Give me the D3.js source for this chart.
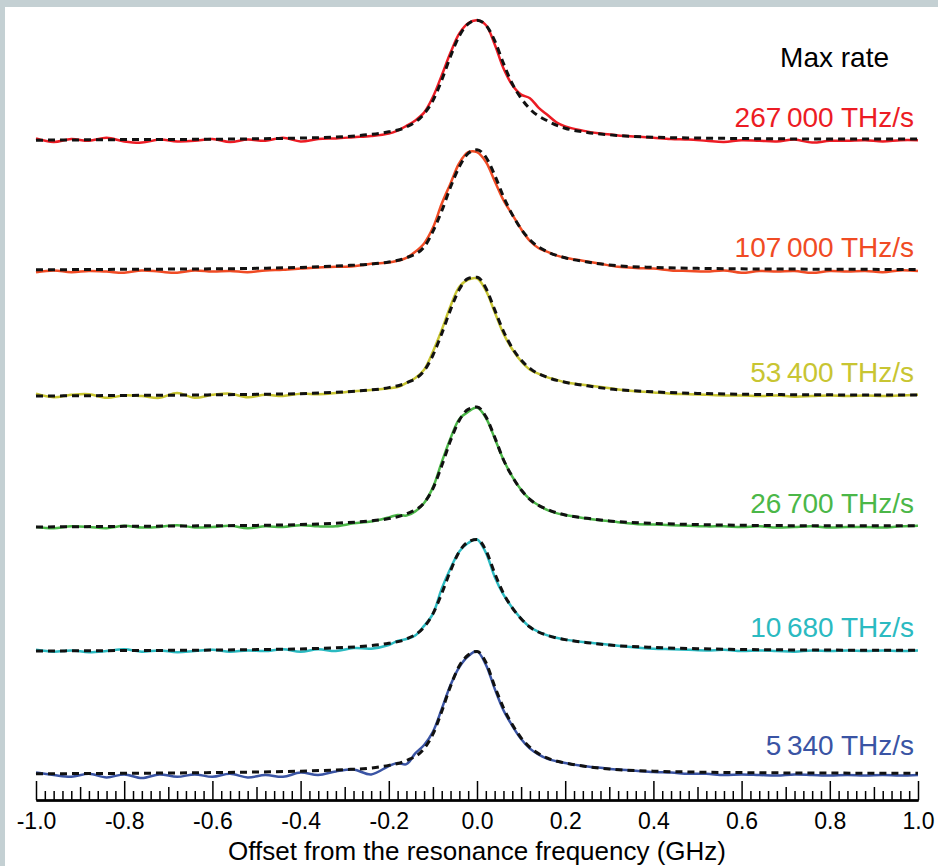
<!DOCTYPE html>
<html>
<head>
<meta charset="utf-8">
<script src="https://cdn.jsdelivr.net/npm/d3@7"></script>
<style>
  html, body { margin: 0; padding: 0; background: #c4d0d3; }
  svg { display: block; }
  text { font-family: "Liberation Sans", Arial, Helvetica, sans-serif; }
</style>
</head>
<body>
<svg id="chart" width="938" height="866"></svg>
<script>
// ---------------- DATA ----------------
const rateLabels = ["267\u2009000 THz/s", "107\u2009000 THz/s", "53\u2009400 THz/s",
                    "26\u2009700 THz/s", "10\u2009680 THz/s", "5\u2009340 THz/s"];
const seriesColors = ["#ec1c24", "#f04b24", "#c8c532", "#4bb748", "#2bbac1", "#3a54a4"];
// vertical offsets of each trace (a.u.)
const offsets = [5.29, 4.20, 3.158, 2.067, 1.033, 0];

const tickValuesMajor = [-1.0, -0.8, -0.6, -0.4, -0.2, 0.0, 0.2, 0.4, 0.6, 0.8, 1.0];
const tickLabels = ["-1.0", "-0.8", "-0.6", "-0.4", "-0.2", "0.0", "0.2", "0.4", "0.6", "0.8", "1.0"];

// measured spectra: x (GHz)
const xData = [-1.00,-0.96,-0.92,-0.88,-0.84,-0.80,-0.76,-0.72,-0.68,-0.64,-0.60,-0.56,-0.52,-0.48,-0.44,-0.40,-0.36,-0.32,-0.28,-0.24,
  -0.20,-0.18,-0.16,-0.14,-0.12,-0.10,-0.08,-0.06,-0.04,-0.02,0.00,0.02,0.04,0.06,0.08,0.10,0.12,0.14,0.16,0.18,0.20,
  0.24,0.28,0.32,0.36,0.40,0.44,0.48,0.52,0.56,0.60,0.64,0.68,0.72,0.76,0.80,0.84,0.88,0.92,0.96,1.00];

const data267000 = [0.015,-0.015,0.01,-0.005,0.02,-0.01,-0.02,0.005,-0.01,-0.005,0.01,-0.015,0.005,-0.005,0.02,-0.01,0.01,0.015,0.025,0.035,
  0.055,0.08,0.12,0.165,0.23,0.36,0.54,0.73,0.89,0.975,1.0,0.96,0.80,0.60,0.46,0.38,0.35,0.27,0.21,0.15,0.115,
  0.08,0.055,0.04,0.03,0.02,0.01,0.005,-0.005,-0.015,0.0,-0.005,-0.01,0.005,-0.02,-0.005,-0.005,0.0,-0.01,0.0,0.0];
const data107000 = [-0.01,0.005,-0.01,0.0,-0.005,-0.015,0.005,-0.005,-0.015,0.005,-0.005,0.0,-0.01,0.005,0.01,0.02,0.03,0.035,0.04,0.06,
  0.07,0.085,0.11,0.16,0.23,0.36,0.56,0.73,0.90,0.99,0.99,0.91,0.75,0.59,0.47,0.35,0.25,0.19,0.16,0.13,0.11,
  0.085,0.06,0.035,0.025,0.02,0.005,0.0,-0.005,0.005,-0.015,0.0,-0.005,0.0,-0.015,0.0,-0.005,0.0,-0.01,0.005,0.0];
const data53400 = [0.02,-0.01,0.01,0.015,-0.015,0.005,0.0,-0.015,0.025,-0.015,0.01,0.02,-0.01,0.01,0.0,0.02,0.015,0.025,0.04,0.05,
  0.065,0.075,0.11,0.15,0.22,0.37,0.55,0.75,0.91,0.97,0.98,0.88,0.70,0.52,0.39,0.29,0.22,0.185,0.155,0.135,0.115,
  0.095,0.075,0.055,0.04,0.03,0.02,0.015,0.01,0.005,0.005,0.0,0.005,-0.005,0.0,0.005,0.0,0.005,0.0,0.005,0.01];
const data26700 = [0.0,-0.01,0.005,0.0,-0.01,0.01,-0.005,0.0,0.015,-0.005,0.0,0.01,-0.01,0.005,0.0,0.015,0.005,0.005,0.03,0.045,
  0.08,0.10,0.095,0.13,0.20,0.33,0.54,0.74,0.90,0.96,0.995,0.91,0.74,0.56,0.42,0.31,0.23,0.18,0.14,0.115,0.10,
  0.075,0.055,0.04,0.025,0.02,0.015,0.01,0.005,0.005,0.0,0.005,-0.005,0.0,0.005,-0.005,0.0,0.0,-0.005,0.005,0.01];
const data10680 = [0.01,-0.005,0.005,-0.01,0.0,0.015,-0.005,0.005,-0.01,0.0,0.01,-0.005,0.005,0.0,0.015,-0.005,0.015,0.0,0.025,0.02,
  0.05,0.085,0.10,0.13,0.21,0.31,0.52,0.69,0.83,0.90,0.93,0.82,0.62,0.47,0.36,0.27,0.20,0.16,0.13,0.11,0.095,
  0.075,0.06,0.045,0.03,0.02,0.015,0.01,0.005,0.01,0.0,0.005,0.0,-0.005,0.005,0.0,0.005,0.0,0.005,0.0,0.005];
const data5340 = [0.02,0.0,-0.015,0.01,-0.02,0.005,-0.025,0.005,-0.015,0.005,-0.015,0.01,-0.02,0.0,-0.015,0.02,0.0,0.03,0.045,0.005,
  0.075,0.10,0.09,0.18,0.25,0.36,0.55,0.75,0.90,0.99,1.03,0.92,0.72,0.54,0.41,0.30,0.22,0.17,0.135,0.115,0.10,
  0.075,0.06,0.045,0.035,0.025,0.02,0.01,0.01,0.0,0.005,0.0,-0.005,0.005,0.0,-0.005,0.0,-0.005,0.0,-0.005,0.0];

// fitted profiles (dashed)
const xFit = [-1,-0.8,-0.6,-0.5,-0.4,-0.3,-0.25,-0.2,-0.16,-0.12,-0.1,-0.08,-0.06,-0.04,-0.02,0,
  0.02,0.04,0.06,0.08,0.1,0.12,0.16,0.2,0.25,0.3,0.4,0.5,0.6,0.8,1.0];
const fit267000 = [0.0,0.005,0.008,0.012,0.018,0.03,0.045,0.07,0.11,0.22,0.33,0.50,0.70,0.87,0.97,1.0,
  0.96,0.83,0.64,0.47,0.35,0.26,0.16,0.10,0.065,0.045,0.025,0.018,0.014,0.01,0.01];
const fit107000 = [0.01,0.014,0.018,0.022,0.03,0.045,0.055,0.075,0.11,0.20,0.33,0.50,0.70,0.87,0.98,1.01,
  0.95,0.80,0.62,0.47,0.35,0.26,0.16,0.11,0.075,0.05,0.03,0.022,0.018,0.015,0.012];
const fit53400 = [0.0,0.005,0.01,0.014,0.02,0.035,0.048,0.07,0.11,0.21,0.34,0.52,0.72,0.89,0.98,0.99,
  0.90,0.72,0.54,0.40,0.30,0.23,0.155,0.115,0.085,0.06,0.035,0.022,0.015,0.01,0.008];
const fit26700 = [0.0,0.005,0.01,0.013,0.02,0.035,0.048,0.07,0.11,0.20,0.32,0.51,0.72,0.89,0.98,1.0,
  0.92,0.75,0.56,0.42,0.31,0.23,0.145,0.10,0.072,0.05,0.03,0.02,0.014,0.01,0.01];
const fit10680 = [0.0,0.004,0.008,0.012,0.018,0.03,0.042,0.065,0.10,0.20,0.31,0.48,0.67,0.83,0.91,0.93,
  0.84,0.65,0.48,0.36,0.27,0.20,0.13,0.095,0.07,0.05,0.03,0.02,0.013,0.008,0.006];
const fit5340 = [0.01,0.014,0.02,0.025,0.032,0.045,0.055,0.08,0.12,0.22,0.34,0.53,0.74,0.91,1.0,1.03,
  0.94,0.74,0.56,0.42,0.31,0.23,0.14,0.10,0.07,0.05,0.032,0.024,0.02,0.016,0.015];

const measured = [data267000, data107000, data53400, data26700, data10680, data5340];
const fits = [fit267000, fit107000, fit53400, fit26700, fit10680, fit5340];

// ---------------- LAYOUT ----------------
const W = 938, H = 866;
const svg = d3.select("#chart");

// window frame
svg.append("rect").attr("x", 0).attr("y", 0).attr("width", W).attr("height", H).attr("fill", "#c4d0d3");
svg.append("rect").attr("x", 5).attr("y", 7).attr("width", W - 5).attr("height", H - 7).attr("fill", "#ffffff");

const x = d3.scaleLinear().domain([-1, 1]).range([36, 918]);
const y = d3.scaleLinear().domain([0, 6.3]).range([775, 19]);
const axisY = 800;

// axis: minor, mid and major ticks pointing up
const g = svg.append("g").attr("transform", `translate(0,${axisY})`);
const minorVals = d3.range(-50, 51).filter(i => i % 5 !== 0).map(i => i / 50);
const midVals = d3.range(-10, 11).filter(i => i % 2 !== 0).map(i => i / 10);

const axMinor = d3.axisBottom(x).tickValues(minorVals).tickSize(-9).tickSizeOuter(0).tickFormat("");
const axMid = d3.axisBottom(x).tickValues(midVals).tickSize(-13).tickSizeOuter(0).tickFormat("");
const axMajor = d3.axisBottom(x).tickValues(tickValuesMajor).tickSize(-19).tickSizeOuter(0)
  .tickPadding(13).tickFormat((d, i) => tickLabels[i]);

[axMinor, axMid, axMajor].forEach(ax => {
  const a = g.append("g").call(ax);
  a.selectAll("line").attr("stroke", "#000").attr("stroke-width", 1.5);
  a.select(".domain").attr("stroke", "#000").attr("stroke-width", 1.8);
  a.selectAll("text").attr("fill", "#000").style("font-size", "23px")
    .style("font-family", '"Liberation Sans", Arial, sans-serif');
});

// axis title
svg.append("text").attr("x", x(0)).attr("y", 860).attr("text-anchor", "middle")
  .style("font-size", "26px").attr("fill", "#000")
  .text("Offset from the resonance frequency (GHz)");

// traces
const labelDy = [13, 14, 14, 14, 14, 20];
measured.forEach((vals, i) => {
  const line = d3.line()
    .x((d, j) => x(xData[j]))
    .y(d => y(offsets[i] + d))
    .curve(d3.curveCatmullRom.alpha(0.5));
  svg.append("path").datum(vals).attr("d", line)
    .attr("fill", "none").attr("stroke", seriesColors[i]).attr("stroke-width", 2.5)
    .attr("stroke-linejoin", "round");

  const fitLine = d3.line()
    .x((d, j) => x(xFit[j]))
    .y(d => y(offsets[i] + d))
    .curve(d3.curveMonotoneX);
  svg.append("path").datum(fits[i]).attr("d", fitLine)
    .attr("fill", "none").attr("stroke", "#111").attr("stroke-width", 3)
    .attr("stroke-dasharray", "7,5");

  svg.append("text").attr("x", 914).attr("y", y(offsets[i]) - labelDy[i])
    .attr("text-anchor", "end").style("font-size", "28px")
    .attr("fill", seriesColors[i]).text(rateLabels[i]);
});

svg.append("text").attr("x", 889).attr("y", 67).attr("text-anchor", "end")
  .style("font-size", "28px").attr("fill", "#000").text("Max rate");
</script>
</body>
</html>
